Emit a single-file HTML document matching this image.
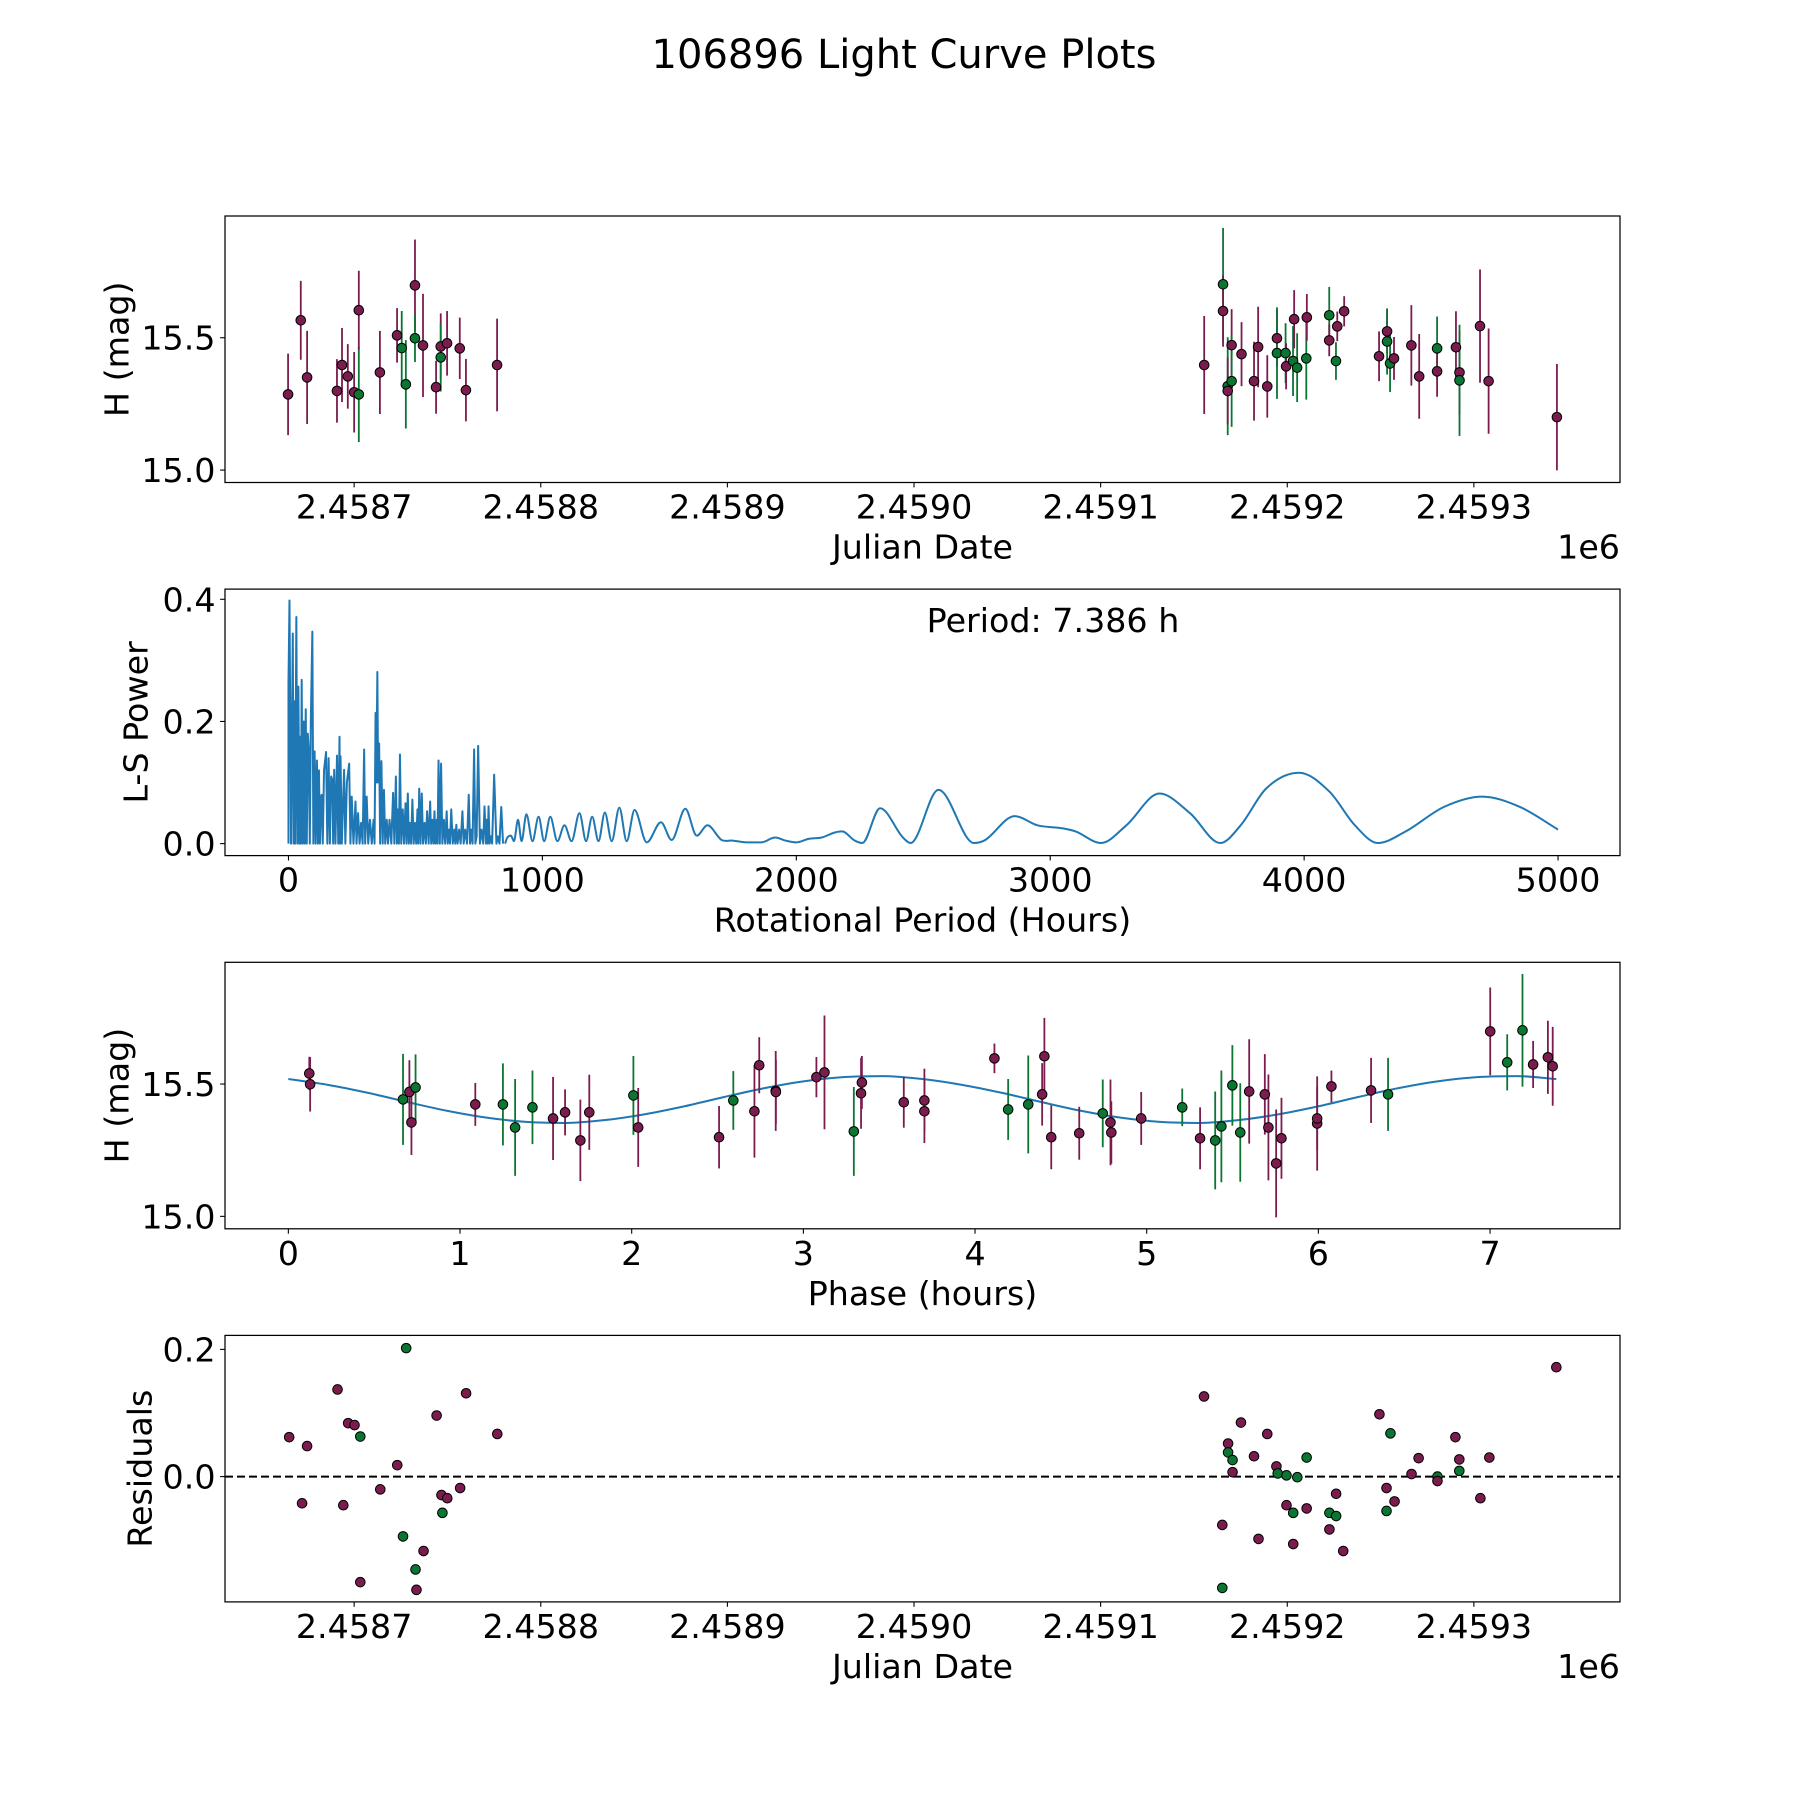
<!DOCTYPE html>
<html><head><meta charset="utf-8"><style>
html,body{margin:0;padding:0;background:#fff}
svg{display:block;font-family:"DejaVu Sans","Liberation Sans",sans-serif}
</style></head><body>
<svg id="fig" xmlns="http://www.w3.org/2000/svg" width="1800" height="1800" viewBox="0 0 1800 1800">
<rect width="1800" height="1800" fill="#fff"/>
<text x="904" y="68" font-size="40" text-anchor="middle">106896 Light Curve Plots</text>
</svg>
<script>
// ===== Panel 1 data: days since JD 2458700, magnitude, error, band =====
const lcOffset = [-35.4,-28.6,-25.2,-9.2,-6.5,-3.4,0.0,2.5,2.5,13.8,23.0,25.5,27.7,32.6,32.6,36.9,43.9,46.4,46.4,49.8,56.6,59.9,76.6,
455.5,465.6,465.6,468.1,468.1,470.2,470.2,475.5,482.2,484.4,489.3,494.5,494.5,499.1,499.4,503.1,503.7,505.3,510.2,510.5,522.5,522.5,526.1,526.8,530.5,549.2,553.5,553.5,555.1,557.2,566.5,570.7,580.3,580.3,590.4,592.3,592.3,603.3,607.9,644.5];
const lcMag = [15.286,15.566,15.350,15.299,15.397,15.354,15.294,15.286,15.604,15.369,15.509,15.461,15.324,15.698,15.498,15.471,15.313,15.467,15.426,15.479,15.460,15.302,15.397,
15.397,15.702,15.601,15.317,15.299,15.472,15.336,15.438,15.336,15.465,15.316,15.498,15.442,15.442,15.392,15.412,15.570,15.387,15.422,15.577,15.585,15.490,15.412,15.543,15.600,15.430,15.524,15.486,15.403,15.422,15.471,15.354,15.460,15.373,15.464,15.369,15.339,15.544,15.336,15.200];
const lcErr = [.154,.149,.176,.120,.140,.122,.152,.180,.149,.157,.103,.140,.167,.173,.090,.195,.100,.125,.129,.122,.116,.118,.175,
.185,.213,.135,.185,.126,.136,.173,.121,.149,.152,.118,.108,.173,.113,.087,.132,.110,.130,.156,.088,.107,.060,.071,.056,.057,.094,.080,.125,.108,.081,.152,.160,.120,.096,.136,.158,.210,.214,.199,.201];
const lcBand = ("pppppppgpppggpgpppgpppp"+"pgpgppgpppppggpgpggpgpgppppggpppgpppgppp").split("");
// ===== Panel 2: Lomb-Scargle periodogram =====
const lsPeriod = [0,0,4,10,17,20,22,26,31,35,39,43,46,49,52,56,60,64,68,72,76,80,84,88,94,98,103,107,112,116,120,124,128,131,135,140,148,153,158,163,168,173,176,180,185,191,196,201,203,205,210,219,224,230,239,244,249,256,264,268,274,280,286,292,298,302,308,314,321,328,335,339,343,346,350,353,357,361,366,371,376,381,387,392,398,405,412,417,423,427,432,435,439,444,450,455,461,465,470,474,478,483,488,493,498,503,508,511,515,520,525,530,536,541,546,552,558,562,567,571,575,579,584,587,591,596,601,606,612,617,623,627,632,636,641,647,653,657,661,666,672,678,685,690,696,703,710,715,720,725,731,736,741,747,754,760,767,772,778,781,785,788,792,797,802,810,819,825,831,838,845,853];
const lsPower = [0,0.262,0.398,0,0.344,0,0.233,0,0.371,0,0.257,0,0.175,0,0.268,0,0.2,0,0.22,0,0.18,0.151,0,0.2,0.347,0,0.151,0,0.136,0,0.12,0,0.077,0.08,0,0.12,0.150,0,0.140,0,0.11,0.104,0,0.121,0,0.144,0,0.175,0,0.143,0,0.121,0,0.1,0.131,0,0.077,0,0.069,0,0.05,0,0.034,0,0.154,0,0.077,0,0.039,0,0.039,0,0.214,0.1,0.281,0.1,0.164,0,0.135,0,0.088,0,0.039,0,0.039,0,0.083,0,0.110,0,0.056,0,0.146,0,0.056,0,0.066,0,0.082,0,0.034,0,0.072,0,0.034,0,0.056,0,0.090,0,0.082,0,0.034,0,0.053,0,0.069,0,0.039,0,0.053,0,0.039,0,0.136,0,0.131,0,0.039,0,0.053,0,0.023,0,0.056,0,0.023,0,0.031,0,0.023,0,0.053,0,0.023,0,0.080,0,0.023,0,0.154,0,0.012,0.160,0,0.023,0,0.061,0,0.039,0,0.061,0,0.012,0,0.113,0,0.012,0,0.060,0];
const lsSmoothPeriod = [862,876,888,904,918,937,961,985,1007,1031,1059,1087,1115,1146,1172,1196,1221,1246,1273,1303,1332,1363,1411,1467,1509,1563,1608,1650,1706,1748,1805,1861,1917,1957,2000,2050,2100,2150,2180,2230,2260,2330,2420,2450,2560,2700,2740,2860,2950,3050,3100,3200,3300,3430,3550,3670,3750,3850,3980,4100,4200,4290,4400,4550,4700,4850,5000];
const lsSmoothPower = [0.010,0.013,0.004,0.039,0.004,0.048,0.004,0.044,0.004,0.044,0.004,0.030,0.004,0.050,0.004,0.044,0.004,0.051,0.004,0.059,0.004,0.055,0.002,0.035,0.006,0.057,0.013,0.030,0.006,0.005,0.002,0.002,0.010,0.005,0.002,0.008,0.010,0.018,0.020,0.005,0.001,0.058,0.010,0.001,0.088,0.001,0.005,0.045,0.030,0.025,0.020,0.001,0.030,0.082,0.050,0.001,0.030,0.090,0.116,0.085,0.030,0.001,0.020,0.060,0.077,0.060,0.023];
const lsTicks = [0,1000,2000,3000,4000,5000];
const lsYTicks = [0.0,0.2,0.4];
// ===== Panel 3: phase-folded data =====
const phPhase = [0.122,0.127,0.668,0.705,0.717,0.741,1.089,1.250,1.321,1.422,1.542,1.612,1.701,1.753,2.010,2.038,2.509,2.592,2.715,2.743,2.839,2.84,3.076,3.123,3.294,3.341,3.336,3.585,3.705,3.705,
4.113,4.193,4.310,4.404,4.391,4.444,4.607,4.744,4.789,4.794,4.968,5.207,5.311,5.399,5.435,5.499,5.545,5.597,5.688,5.709,5.754,5.785,5.993,5.993,6.076,6.307,6.406,7.001,7.100,7.189,7.251,7.337,7.365];
const phMag = [15.540,15.499,15.442,15.470,15.355,15.487,15.423,15.423,15.336,15.412,15.370,15.393,15.287,15.393,15.457,15.336,15.299,15.438,15.397,15.571,15.474,15.47,15.526,15.544,15.321,15.506,15.465,15.431,15.438,15.397,
15.597,15.404,15.423,15.605,15.461,15.299,15.314,15.389,15.355,15.317,15.370,15.412,15.295,15.287,15.340,15.495,15.317,15.472,15.461,15.336,15.200,15.295,15.351,15.370,15.491,15.476,15.461,15.699,15.582,15.703,15.574,15.601,15.567];
const phErr = [.063,.103,.172,.12,.123,.125,.081,.155,.183,.139,.157,.087,.154,.142,.149,.149,.118,.111,.175,.106,.151,.12,.076,.215,.168,.10,.134,.096,.12,.12,
.056,.115,.185,.145,.118,.121,.10,.128,.162,.118,.10,.071,.117,.185,.211,.152,.186,.197,.152,.2,.204,.153,.178,.12,.06,.123,.138,.166,.106,.213,.089,.138,.149];
const phBand = ("ppgppgpgggppppgppgppppppgppppp"+"pggppppgpppgpggggpppppppppgpggppp").split("");
const fitPhase = [0,0.2308,0.4616,0.6924,0.9233,1.1541,1.3849,1.6157,1.8465,2.0773,2.3081,2.5389,2.7698,3.0006,3.2314,3.4622,3.693,3.9238,4.1546,4.3855,4.6163,4.8471,5.0779,5.3087,5.5395,5.7703,6.0011,6.232,6.4628,6.6936,6.9244,7.1552,7.386];
const fitMag = [15.519,15.497,15.467,15.432,15.399,15.373,15.357,15.353,15.364,15.386,15.416,15.451,15.484,15.510,15.526,15.530,15.519,15.497,15.467,15.432,15.399,15.373,15.357,15.353,15.364,15.386,15.416,15.451,15.484,15.510,15.526,15.530,15.519];
const phTicks = [0,1,2,3,4,5,6,7];
// ===== Panel 4: residuals =====
const resOffset = [-34.8,-25.2,-27.9,-8.9,-5.8,-3.2,0.2,3.3,3.3,14.0,23.1,26.2,27.9,32.9,33.4,37.2,44.2,46.8,47.3,49.9,56.8,60.0,76.7,
455.4,465.2,465.2,468.3,468.3,470.7,470.7,475.2,482.2,484.6,489.3,494.2,494.9,499.6,499.6,503.2,503.2,505.4,510.4,510.4,522.6,522.6,526.2,526.2,530.0,549.4,553.2,553.2,555.3,557.5,566.6,570.4,580.5,580.5,590.1,592.2,592.2,603.5,608.3,644.2];
const resValue = [0.062,0.048,-0.042,0.137,-0.045,0.084,0.081,0.063,-0.166,-0.020,0.018,-0.094,0.202,-0.146,-0.178,-0.117,0.096,-0.029,-0.057,-0.034,-0.018,0.131,0.067,
0.126,-0.076,-0.175,0.052,0.038,0.026,0.007,0.085,0.032,-0.098,0.067,0.016,0.005,0.002,-0.045,-0.057,-0.106,-0.001,0.030,-0.050,-0.057,-0.083,-0.062,-0.027,-0.117,0.098,-0.018,-0.054,0.068,-0.039,0.004,0.029,0.000,-0.007,0.062,0.027,0.009,-0.034,0.030,0.172];
const resBand = ("pppppppgpppgggppppgpppp"+"ppgpggppppppggpgpggpgpgppppggpppgpppgppp").split("");
const jdTicks = [0,100,200,300,400,500,600];
const jdTickLabels = ["2.4587","2.4588","2.4589","2.4590","2.4591","2.4592","2.4593"];
const magTicks = [15.0,15.5];
const resTicks = [0.0,0.2];

const NS="http://www.w3.org/2000/svg";
const svg=document.getElementById('fig');
const COL={p:"#7b1c4f",g:"#0b7532"};
const L=225,R=1620,H=266.5;
const TOPS=[216,589.1,962.3,1335.4];
const FS=33.3;
function mk(tag,attrs,parent){const e=document.createElementNS(NS,tag);for(const k in attrs)e.setAttribute(k,attrs[k]);(parent||svg).appendChild(e);return e;}
function lin(d0,d1,r0,r1){return v=>r0+(v-d0)/(d1-d0)*(r1-r0);}

function axesFrame(name,top,g){
  const r=mk('rect',{x:L,y:top,width:R-L,height:H,fill:'none',stroke:'#000','stroke-width':1.25},g);
  
  
}
function xTicks(g,name,top,vals,labels,sx){
  const b=top+H;
  vals.forEach((v,i)=>{const x=sx(v);
    const t=mk('line',{x1:x,x2:x,y1:b,y2:b+4.9,stroke:'#000','stroke-width':1.1},g);
    
    
    const s=mk('text',{x:x,y:b+36,'font-size':FS,'text-anchor':'middle'},g);s.textContent=labels[i];
    
    
  });
}
function yTicks(g,name,vals,labels,sy){
  vals.forEach((v,i)=>{const y=sy(v);
    const t=mk('line',{x1:L-4.9,x2:L,y1:y,y2:y,stroke:'#000','stroke-width':1.1},g);
    
    
    const s=mk('text',{x:L-9.5,y:y+12,'font-size':FS,'text-anchor':'end'},g);s.textContent=labels[i];
    
    
  });
}
function xLabel(g,name,top,txt){const s=mk('text',{x:(L+R)/2,y:top+H+76,'font-size':FS,'text-anchor':'middle'},g);s.textContent=txt;
  
  }
function yLabel(g,name,top,txt,x){const cy=top+H/2;const s=mk('text',{x:x,y:cy,'font-size':FS,'text-anchor':'middle','transform':`rotate(-90 ${x} ${cy})`,'dominant-baseline':'central'},g);s.textContent=txt;
  
  }
function offsetText(g,name,top){const s=mk('text',{x:R,y:top+H+76,'font-size':FS,'text-anchor':'end'},g);s.textContent='1e6';
  
  }
function errPoints(g,name,xs,ys,es,bands,sx,sy){
  xs.forEach((v,i)=>{const x=sx(v);
    const l=mk('line',{x1:x,x2:x,y1:sy(ys[i]-es[i]),y2:sy(ys[i]+es[i]),stroke:COL[bands[i]],'stroke-width':1.8},g);
    
    
  });
  xs.forEach((v,i)=>{
    const c=mk('circle',{cx:sx(v),cy:sy(ys[i]),r:4.8,fill:COL[bands[i]],stroke:'#000','stroke-width':1},g);
    
    
  });
}
function monotone(pts){const n=pts.length;const dx=[],dy=[],m=[];
  for(let i=0;i<n-1;i++){dx.push(pts[i+1][0]-pts[i][0]);dy.push((pts[i+1][1]-pts[i][1])/dx[i]);}
  m[0]=dy[0];m[n-1]=dy[n-2];
  for(let i=1;i<n-1;i++){m[i]=(dy[i-1]*dy[i]<=0)?0:(dy[i-1]+dy[i])/2;}
  let d=`M${pts[0][0]},${pts[0][1]}`;
  for(let i=0;i<n-1;i++){const h=dx[i]/3;
    d+=` C${pts[i][0]+h},${pts[i][1]+m[i]*h} ${pts[i+1][0]-h},${pts[i+1][1]-m[i+1]*h} ${pts[i+1][0]},${pts[i+1][1]}`;}
  return d;}

const jdX=lin(-69.2,678.3,L,R);
// ---- Panel 1 ----
{const top=TOPS[0];const g=mk('g',{});
 const sy=lin(14.953,15.960,top+H,top);
 errPoints(g,'light-curve',lcOffset,lcMag,lcErr,lcBand,jdX,sy);
 axesFrame('light-curve',top,g);
 xTicks(g,'light-curve',top,jdTicks,jdTickLabels,jdX);
 yTicks(g,'light-curve',magTicks,magTicks.map(v=>v.toFixed(1)),sy);
 xLabel(g,'light-curve',top,'Julian Date');yLabel(g,'light-curve',top,'H (mag)',117);offsetText(g,'light-curve',top);}
// ---- Panel 2 ----
{const top=TOPS[1];const g=mk('g',{});
 const sx=lin(-250,5244,L,R),sy=lin(-0.0196,0.4167,top+H,top);
 let d='';lsPeriod.forEach((p,i)=>{d+=(i?'L':'M')+sx(p).toFixed(2)+','+sy(lsPower[i]).toFixed(2)+' ';});
 const dense=mk('path',{d:d,fill:'none',stroke:'#1f77b4','stroke-width':2,'stroke-linejoin':'round'},g);
 
 
 const pts=[[sx(lsPeriod[lsPeriod.length-1]),sy(lsPower[lsPower.length-1])]].concat(lsSmoothPeriod.map((p,i)=>[sx(p),sy(lsSmoothPower[i])]));
 const sm=mk('path',{d:monotone(pts),fill:'none',stroke:'#1f77b4','stroke-width':2},g);
 
 
 axesFrame('periodogram',top,g);
 xTicks(g,'periodogram',top,lsTicks,lsTicks.map(String),sx);
 yTicks(g,'periodogram',lsYTicks,lsYTicks.map(v=>v.toFixed(1)),sy);
 xLabel(g,'periodogram',top,'Rotational Period (Hours)');yLabel(g,'periodogram',top,'L-S Power',136);
 const t=mk('text',{x:1053,y:632,'font-size':FS,'text-anchor':'middle'},g);t.textContent='Period: 7.386 h';
 
 }
// ---- Panel 3 ----
{const top=TOPS[2];const g=mk('g',{});
 const sx=lin(-0.369,7.757,L,R),sy=lin(14.953,15.960,top+H,top);
 const fit=mk('path',{d:monotone(fitPhase.map((p,i)=>[sx(p),sy(fitMag[i])])),fill:'none',stroke:'#1f77b4','stroke-width':2},g);
 
 
 errPoints(g,'phase',phPhase,phMag,phErr,phBand,sx,sy);
 axesFrame('phase',top,g);
 xTicks(g,'phase',top,phTicks,phTicks.map(String),sx);
 yTicks(g,'phase',magTicks,magTicks.map(v=>v.toFixed(1)),sy);
 xLabel(g,'phase',top,'Phase (hours)');yLabel(g,'phase',top,'H (mag)',117);}
// ---- Panel 4 ----
{const top=TOPS[3];const g=mk('g',{});
 const sy=lin(-0.197,0.222,top+H,top);
 const z=mk('line',{x1:L,x2:R,y1:sy(0),y2:sy(0),stroke:'#000','stroke-width':2,'stroke-dasharray':'8,4'},g);
 
 
 resOffset.forEach((v,i)=>{const c=mk('circle',{cx:jdX(v),cy:sy(resValue[i]),r:4.8,fill:COL[resBand[i]],stroke:'#000','stroke-width':1},g);
   
   });
 axesFrame('residuals',top,g);
 xTicks(g,'residuals',top,jdTicks,jdTickLabels,jdX);
 yTicks(g,'residuals',resTicks,resTicks.map(v=>v.toFixed(1)),sy);
 xLabel(g,'residuals',top,'Julian Date');yLabel(g,'residuals',top,'Residuals',140);offsetText(g,'residuals',top);}
</script>
</body></html>
